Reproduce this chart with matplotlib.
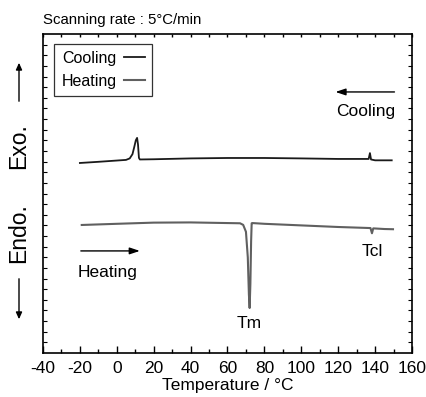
import numpy as np
import matplotlib
matplotlib.use("Agg")
from matplotlib import pyplot as plt

plt.rcParams["font.family"] = ["Liberation Sans", "DejaVu Sans"]
plt.rcParams["axes.unicode_minus"] = False

# cooling scan (temperature in degC, signal in arbitrary units)
cool_T = [-20, -10, 0, 5, 7, 8.5, 9.5, 10.3, 11, 11.5, 12, 12.5, 20, 40, 60, 80, 100,
          120, 136.5, 137.2, 137.8, 140, 145, 149]
cool_y = [17.87, 17.98, 18.10, 18.16, 18.3, 18.7, 19.4, 20.0, 20.23, 19.6, 18.35, 18.2,
          18.22, 18.3, 18.34, 18.34, 18.3, 18.25, 18.25, 18.8, 18.2, 18.12, 18.12, 18.12]

# heating scan
heat_T = [-19, 0, 20, 40, 60, 66.8, 68.5, 70, 71, 71.6, 72, 72.4, 72.8, 73.1, 73.5,
          80, 100, 120, 137.5, 138.3, 139, 145, 149.7]
heat_y = [12.04, 12.15, 12.26, 12.28, 12.22, 12.2, 12.05, 11.4, 9.0, 5.5, 4.23, 6.5,
          10.5, 12.2, 12.22, 12.15, 12.0, 11.85, 11.75, 11.26, 11.72, 11.66, 11.64]

x_ticks = [-40, -20, 0, 20, 40, 60, 80, 100, 120, 140, 160]

fig = plt.figure(figsize=(4.27, 3.97), dpi=100)
ax = fig.add_axes([43 / 427, 1 - 353 / 397, 369 / 427, 319 / 397])

ax.plot(cool_T, cool_y, color="#1a1a1a", lw=1.3, label="Cooling")
ax.plot(heat_T, heat_y, color="#606060", lw=1.5, label="Heating")

ax.set_xlim(-40, 160)
ax.set_ylim(0, 30)
ax.set_xticks(x_ticks)
ax.set_xticks(np.arange(-30, 160, 20), minor=True)
ax.set_yticks(np.arange(1, 30, 1))
ax.set_yticklabels([])
ax.tick_params(axis="x", which="major", direction="in", length=5, width=1,
               labelsize=12.5, pad=6, top=True, color="black")
ax.tick_params(axis="x", which="minor", direction="in", length=3, width=1, top=True)
ax.tick_params(axis="y", direction="in", length=3, width=0.8, left=True, right=True)
for t in ax.xaxis.get_major_ticks() + ax.xaxis.get_minor_ticks():
    t.tick2line.set_color("#c8c8c8")
    t.tick2line.set_markersize(2)
for s in ax.spines.values():
    s.set_linewidth(1.2)
ax.set_xlabel("Temperature / °C", fontsize=12.5, labelpad=1)

leg = ax.legend(loc="upper left", bbox_to_anchor=(0.03, 0.969), borderaxespad=0,
                markerfirst=False, fancybox=False, edgecolor="black", fontsize=11.5,
                handlelength=1.3, borderpad=0.45, labelspacing=0.5, handletextpad=0.5)
leg.get_frame().set_linewidth(0.9)

fig.text(43 / 427, 1 - 20 / 397, "Scanning rate : 5°C/min", fontsize=10.8,
         ha="left", va="center")

# Exo / Endo labels with arrows on the left
fig.text(19 / 427, 1 - 146 / 397, "Exo.", fontsize=16.5, rotation=90, ha="center", va="center")
fig.text(19 / 427, 1 - 233 / 397, "Endo.", fontsize=16.5, rotation=90, ha="center", va="center")
fig.add_artist(matplotlib.patches.FancyArrowPatch(
    (19 / 427, 1 - 104 / 397), (19 / 427, 1 - 60 / 397), transform=fig.transFigure,
    arrowstyle="-|>,head_length=4,head_width=1.8", lw=1, color="black"))
fig.add_artist(matplotlib.patches.FancyArrowPatch(
    (19 / 427, 1 - 276 / 397), (19 / 427, 1 - 322 / 397), transform=fig.transFigure,
    arrowstyle="-|>,head_length=4,head_width=1.8", lw=1, color="black"))

# direction arrows in the plot
ax.annotate("", xy=(117, 24.55), xytext=(152, 24.55),
            arrowprops=dict(arrowstyle="-|>,head_length=0.6,head_width=0.2", lw=1, color="black"))
ax.text(151, 22.67, "Cooling", fontsize=12.5, ha="right", va="center")
ax.annotate("", xy=(14, 9.6), xytext=(-21, 9.6),
            arrowprops=dict(arrowstyle="-|>,head_length=0.6,head_width=0.2", lw=1, color="black"))
ax.text(-21, 7.6, "Heating", fontsize=12.5, ha="left", va="center")

ax.text(72, 2.73, "Tm", fontsize=12.5, ha="center", va="center")
ax.text(138.3, 9.5, "Tcl", fontsize=12.5, ha="center", va="center")

fig.savefig("out.png", dpi=100)
